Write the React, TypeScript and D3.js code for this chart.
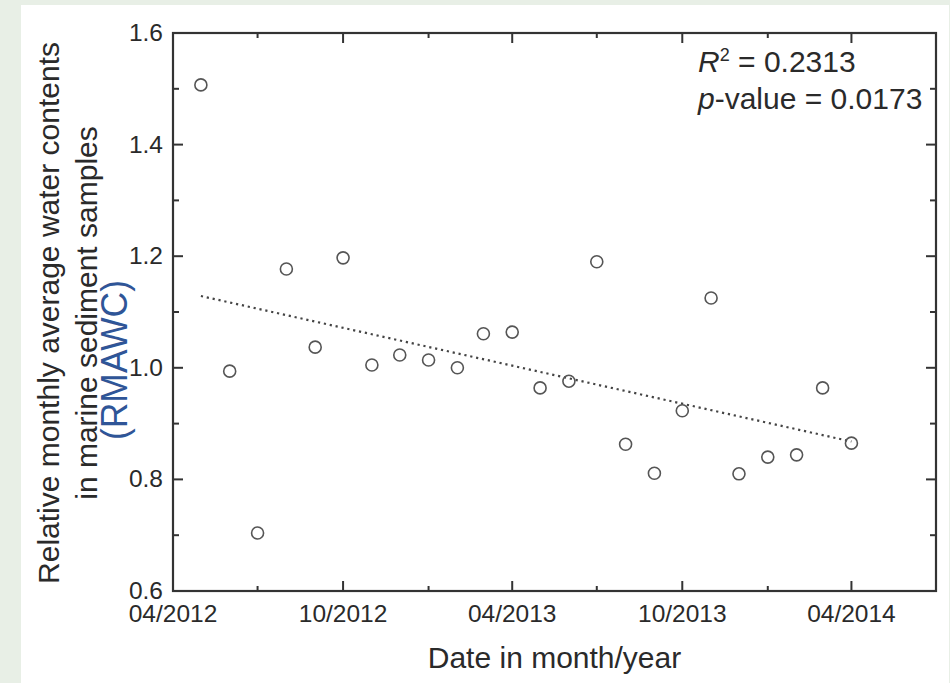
import React, { useEffect, useRef } from "react";
import * as d3 from "d3";

// monthly samples 05/2012 .. 04/2014
const months = [
  "2012-05", "2012-06", "2012-07", "2012-08", "2012-09", "2012-10",
  "2012-11", "2012-12", "2013-01", "2013-02", "2013-03", "2013-04",
  "2013-05", "2013-06", "2013-07", "2013-08", "2013-09", "2013-10",
  "2013-11", "2013-12", "2014-01", "2014-02", "2014-03", "2014-04",
];
const rmawc = [
  1.507, 0.994, 0.704, 1.177, 1.037, 1.197,
  1.005, 1.023, 1.014, 1.0, 1.061, 1.064,
  0.964, 0.976, 1.19, 0.863, 0.811, 0.923,
  1.125, 0.81, 0.84, 0.844, 0.964, 0.865,
];
const xMajorTicks = ["2012-04", "2012-10", "2013-04", "2013-10", "2014-04"];
const xMinorTicks = ["2012-07", "2013-01", "2013-07", "2014-01"];
const yMajorTicks = [0.6, 0.8, 1.0, 1.2, 1.4, 1.6];
const yMinorTicks = [0.7, 0.9, 1.1, 1.3, 1.5];
const xDomain = ["2012-04", "2014-07"];
const yDomain = [0.6, 1.6];

const parse = d3.timeParse("%Y-%m");
const fmt = d3.timeFormat("%m/%Y");

export default function App() {
  const svgRef = useRef<SVGSVGElement>(null);

  useEffect(() => {
    const W = 950;
    const H = 683;
    const m = { left: 173, top: 33, right: 936, bottom: 591 };
    const svg = d3.select(svgRef.current).attr("width", W).attr("height", H);
    svg.selectAll("*").remove();

    // page background + white panel
    svg.append("rect").attr("width", W).attr("height", H).attr("fill", "#e8efe6");
    svg.append("rect").attr("x", 21).attr("y", 5).attr("width", 928).attr("height", H - 5).attr("fill", "#fff");

    const x = d3.scaleTime().domain(xDomain.map((d) => parse(d)!)).range([m.left, m.right]);
    const y = d3.scaleLinear().domain(yDomain).range([m.bottom, m.top]);

    const axisColor = "#333";
    const textColor = "#2a2a2a";
    const g = svg.append("g");

    // ticks (inward, mirrored on all four sides)
    const tick = (x1: number, y1: number, x2: number, y2: number) =>
      g.append("line").attr("x1", x1).attr("y1", y1).attr("x2", x2).attr("y2", y2)
        .attr("stroke", axisColor).attr("stroke-width", 2);

    xMajorTicks.forEach((d) => {
      const px = x(parse(d)!);
      tick(px, m.bottom, px, m.bottom - 10);
      tick(px, m.top, px, m.top + 10);
    });
    xMinorTicks.forEach((d) => {
      const px = x(parse(d)!);
      tick(px, m.bottom, px, m.bottom - 5);
      tick(px, m.top, px, m.top + 5);
    });
    yMajorTicks.forEach((v) => {
      tick(m.left, y(v), m.left + 10, y(v));
      tick(m.right, y(v), m.right - 10, y(v));
    });
    yMinorTicks.forEach((v) => {
      tick(m.left, y(v), m.left + 6, y(v));
      tick(m.right, y(v), m.right - 6, y(v));
    });

    // frame
    g.append("rect").attr("x", m.left).attr("y", m.top)
      .attr("width", m.right - m.left).attr("height", m.bottom - m.top)
      .attr("fill", "none").attr("stroke", axisColor).attr("stroke-width", 2.2);

    const font = "'Liberation Sans', Arial, sans-serif";

    // tick labels
    g.selectAll(".ylab").data(yMajorTicks).join("text")
      .attr("x", m.left - 10).attr("y", (v) => y(v) + 8)
      .attr("text-anchor", "end").attr("font-family", font).attr("font-size", 24.5)
      .attr("fill", textColor).text((v) => v.toFixed(1));
    g.selectAll(".xlab").data(xMajorTicks).join("text")
      .attr("x", (d) => x(parse(d)!)).attr("y", m.bottom + 31)
      .attr("text-anchor", "middle").attr("font-family", font).attr("font-size", 24.5)
      .attr("fill", textColor).text((d) => fmt(parse(d)!));

    // axis titles
    g.append("text").attr("x", (m.left + m.right) / 2).attr("y", 668)
      .attr("text-anchor", "middle").attr("font-family", font).attr("font-size", 30)
      .attr("fill", textColor).text("Date in month/year");
    const yt = g.append("text").attr("transform", "translate(0,313) rotate(-90)")
      .attr("text-anchor", "middle").attr("font-family", font).attr("font-size", 30)
      .attr("fill", textColor);
    yt.append("tspan").attr("x", 0).attr("y", 59).text("Relative monthly average water contents");
    yt.append("tspan").attr("x", 0).attr("y", 97).text("in marine sediment samples");
    g.append("text").attr("transform", "translate(127,360) rotate(-90)")
      .attr("text-anchor", "middle").attr("font-family", font).attr("font-size", 36)
      .attr("textLength", 160).attr("lengthAdjust", "spacingAndGlyphs")
      .attr("fill", "#2f5597").text("(RMAWC)");

    // linear trend (least squares over month index)
    const pts = months.map((d, i) => ({ t: parse(d)!, i: i + 1, v: rmawc[i] }));
    const mi = d3.mean(pts, (p) => p.i)!;
    const mv = d3.mean(pts, (p) => p.v)!;
    const slope = d3.sum(pts, (p) => (p.i - mi) * (p.v - mv)) / d3.sum(pts, (p) => (p.i - mi) ** 2);
    const first = pts[0];
    const last = pts[pts.length - 1];
    const trend = [
      { t: first.t, v: mv + slope * (first.i - mi) },
      { t: last.t, v: mv + slope * (last.i - mi) },
    ];
    g.append("path")
      .attr("d", d3.line<{ t: Date; v: number }>().x((p) => x(p.t)).y((p) => y(p.v))(trend))
      .attr("fill", "none").attr("stroke", "#444").attr("stroke-width", 2.2)
      .attr("stroke-dasharray", "2.2,3.8");

    // points
    g.selectAll(".pt").data(pts).join("circle")
      .attr("cx", (p) => x(p.t)).attr("cy", (p) => y(p.v)).attr("r", 6)
      .attr("fill", "none").attr("stroke", "#555").attr("stroke-width", 1.6);

    // statistics
    const r2 = g.append("text").attr("x", 698).attr("y", 72)
      .attr("font-family", font).attr("font-size", 30).attr("fill", textColor);
    r2.append("tspan").attr("font-style", "italic").text("R");
    r2.append("tspan").attr("font-size", 18).attr("dy", -11).text("2");
    r2.append("tspan").attr("dy", 11).text(" = 0.2313");
    const pv = g.append("text").attr("x", 698).attr("y", 109)
      .attr("font-family", font).attr("font-size", 30).attr("fill", textColor);
    pv.append("tspan").attr("font-style", "italic").text("p");
    pv.append("tspan").text("-value = 0.0173");
  }, []);

  return <svg ref={svgRef} style={{ position: "absolute", left: 0, top: 0 }}></svg>;
}
